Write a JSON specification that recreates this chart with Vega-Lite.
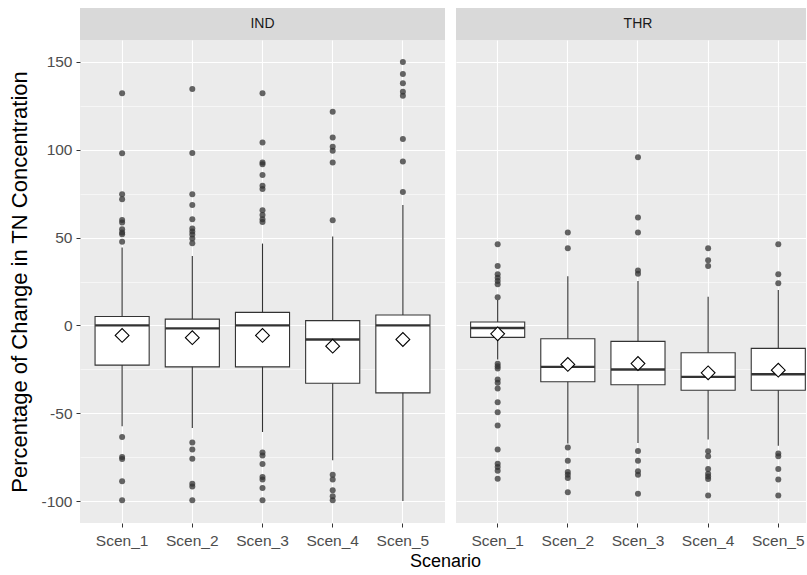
{
  "$schema": "https://vega.github.io/schema/vega-lite/v6.json",
  "background": "white",
  "padding": {"left": 8, "top": 8, "right": 0, "bottom": 0},
  "autosize": {"type": "pad"},
  "config": {
    "font": "Liberation Sans",
    "view": {"stroke": null},
    "concat": {"spacing": 11}
  },
  "title": {
    "text": "Scenario",
    "orient": "bottom",
    "anchor": "middle",
    "frame": "bounds",
    "dx": 38,
    "fontSize": 18,
    "fontWeight": "normal",
    "color": "#000000",
    "offset": 4
  },
  "datasets": {
    "boxes": [
      {"site": "IND", "scen": "Scen_1", "lo": -57.4, "q1": -22.6, "med": 0.0, "q3": 5.1, "hi": 44.3, "mean": -5.7},
      {"site": "IND", "scen": "Scen_2", "lo": -58.4, "q1": -23.6, "med": -1.7, "q3": 3.6, "hi": 39.5, "mean": -7.0},
      {"site": "IND", "scen": "Scen_3", "lo": -60.7, "q1": -23.6, "med": 0.0, "q3": 7.4, "hi": 46.6, "mean": -5.7},
      {"site": "IND", "scen": "Scen_4", "lo": -76.8, "q1": -32.9, "med": -8.0, "q3": 2.7, "hi": 50.6, "mean": -11.8},
      {"site": "IND", "scen": "Scen_5", "lo": -100.0, "q1": -38.4, "med": 0.0, "q3": 5.9, "hi": 68.6, "mean": -8.0},
      {"site": "THR", "scen": "Scen_1", "lo": -19.4, "q1": -6.8, "med": -1.5, "q3": 1.9, "hi": 14.5, "mean": -4.8},
      {"site": "THR", "scen": "Scen_2", "lo": -67.3, "q1": -32.1, "med": -23.6, "q3": -7.6, "hi": 28.0, "mean": -22.2},
      {"site": "THR", "scen": "Scen_3", "lo": -67.0, "q1": -33.8, "med": -25.1, "q3": -9.1, "hi": 25.3, "mean": -21.7},
      {"site": "THR", "scen": "Scen_4", "lo": -65.0, "q1": -36.9, "med": -29.3, "q3": -15.6, "hi": 16.3, "mean": -27.0},
      {"site": "THR", "scen": "Scen_5", "lo": -68.5, "q1": -36.9, "med": -27.8, "q3": -13.1, "hi": 20.1, "mean": -25.5}
    ],
    "outliers": [
      {"site": "IND", "scen": "Scen_1", "v": 132.2}, {"site": "IND", "scen": "Scen_1", "v": 98.0},
      {"site": "IND", "scen": "Scen_1", "v": 74.7}, {"site": "IND", "scen": "Scen_1", "v": 71.9},
      {"site": "IND", "scen": "Scen_1", "v": 60.0}, {"site": "IND", "scen": "Scen_1", "v": 58.6},
      {"site": "IND", "scen": "Scen_1", "v": 54.8}, {"site": "IND", "scen": "Scen_1", "v": 52.9},
      {"site": "IND", "scen": "Scen_1", "v": 51.9}, {"site": "IND", "scen": "Scen_1", "v": 47.7},
      {"site": "IND", "scen": "Scen_1", "v": -63.5}, {"site": "IND", "scen": "Scen_1", "v": -74.9},
      {"site": "IND", "scen": "Scen_1", "v": -76.0}, {"site": "IND", "scen": "Scen_1", "v": -88.8},
      {"site": "IND", "scen": "Scen_1", "v": -99.6},

      {"site": "IND", "scen": "Scen_2", "v": 134.6}, {"site": "IND", "scen": "Scen_2", "v": 98.1},
      {"site": "IND", "scen": "Scen_2", "v": 74.7}, {"site": "IND", "scen": "Scen_2", "v": 68.5},
      {"site": "IND", "scen": "Scen_2", "v": 60.5}, {"site": "IND", "scen": "Scen_2", "v": 55.2},
      {"site": "IND", "scen": "Scen_2", "v": 53.5}, {"site": "IND", "scen": "Scen_2", "v": 51.7},
      {"site": "IND", "scen": "Scen_2", "v": 49.5}, {"site": "IND", "scen": "Scen_2", "v": 46.8},
      {"site": "IND", "scen": "Scen_2", "v": -66.6}, {"site": "IND", "scen": "Scen_2", "v": -70.7},
      {"site": "IND", "scen": "Scen_2", "v": -75.9}, {"site": "IND", "scen": "Scen_2", "v": -90.1},
      {"site": "IND", "scen": "Scen_2", "v": -91.7}, {"site": "IND", "scen": "Scen_2", "v": -99.6},

      {"site": "IND", "scen": "Scen_3", "v": 132.2}, {"site": "IND", "scen": "Scen_3", "v": 104.2},
      {"site": "IND", "scen": "Scen_3", "v": 92.8}, {"site": "IND", "scen": "Scen_3", "v": 91.8},
      {"site": "IND", "scen": "Scen_3", "v": 85.6}, {"site": "IND", "scen": "Scen_3", "v": 79.5},
      {"site": "IND", "scen": "Scen_3", "v": 77.6}, {"site": "IND", "scen": "Scen_3", "v": 65.6},
      {"site": "IND", "scen": "Scen_3", "v": 62.8}, {"site": "IND", "scen": "Scen_3", "v": 60.5},
      {"site": "IND", "scen": "Scen_3", "v": 58.9},
      {"site": "IND", "scen": "Scen_3", "v": -72.3}, {"site": "IND", "scen": "Scen_3", "v": -74.0},
      {"site": "IND", "scen": "Scen_3", "v": -78.9}, {"site": "IND", "scen": "Scen_3", "v": -86.3},
      {"site": "IND", "scen": "Scen_3", "v": -87.8}, {"site": "IND", "scen": "Scen_3", "v": -92.6},
      {"site": "IND", "scen": "Scen_3", "v": -99.6},

      {"site": "IND", "scen": "Scen_4", "v": 121.7}, {"site": "IND", "scen": "Scen_4", "v": 107.0},
      {"site": "IND", "scen": "Scen_4", "v": 101.7}, {"site": "IND", "scen": "Scen_4", "v": 99.4},
      {"site": "IND", "scen": "Scen_4", "v": 92.8}, {"site": "IND", "scen": "Scen_4", "v": 59.9},
      {"site": "IND", "scen": "Scen_4", "v": -85.0}, {"site": "IND", "scen": "Scen_4", "v": -87.8},
      {"site": "IND", "scen": "Scen_4", "v": -93.9}, {"site": "IND", "scen": "Scen_4", "v": -97.3},
      {"site": "IND", "scen": "Scen_4", "v": -99.6},

      {"site": "IND", "scen": "Scen_5", "v": 150.0}, {"site": "IND", "scen": "Scen_5", "v": 143.2},
      {"site": "IND", "scen": "Scen_5", "v": 137.9}, {"site": "IND", "scen": "Scen_5", "v": 133.1},
      {"site": "IND", "scen": "Scen_5", "v": 130.8}, {"site": "IND", "scen": "Scen_5", "v": 106.1},
      {"site": "IND", "scen": "Scen_5", "v": 93.3}, {"site": "IND", "scen": "Scen_5", "v": 76.0},

      {"site": "THR", "scen": "Scen_1", "v": 46.2}, {"site": "THR", "scen": "Scen_1", "v": 33.8},
      {"site": "THR", "scen": "Scen_1", "v": 29.1}, {"site": "THR", "scen": "Scen_1", "v": 27.2},
      {"site": "THR", "scen": "Scen_1", "v": 25.3}, {"site": "THR", "scen": "Scen_1", "v": 23.4},
      {"site": "THR", "scen": "Scen_1", "v": 16.1},
      {"site": "THR", "scen": "Scen_1", "v": -21.9}, {"site": "THR", "scen": "Scen_1", "v": -23.2},
      {"site": "THR", "scen": "Scen_1", "v": -24.6}, {"site": "THR", "scen": "Scen_1", "v": -30.8},
      {"site": "THR", "scen": "Scen_1", "v": -32.7}, {"site": "THR", "scen": "Scen_1", "v": -35.9},
      {"site": "THR", "scen": "Scen_1", "v": -43.7}, {"site": "THR", "scen": "Scen_1", "v": -49.4},
      {"site": "THR", "scen": "Scen_1", "v": -57.0}, {"site": "THR", "scen": "Scen_1", "v": -70.7},
      {"site": "THR", "scen": "Scen_1", "v": -78.7}, {"site": "THR", "scen": "Scen_1", "v": -80.6},
      {"site": "THR", "scen": "Scen_1", "v": -82.7}, {"site": "THR", "scen": "Scen_1", "v": -87.3},

      {"site": "THR", "scen": "Scen_2", "v": 52.9}, {"site": "THR", "scen": "Scen_2", "v": 43.9},
      {"site": "THR", "scen": "Scen_2", "v": -69.5}, {"site": "THR", "scen": "Scen_2", "v": -77.0},
      {"site": "THR", "scen": "Scen_2", "v": -83.5}, {"site": "THR", "scen": "Scen_2", "v": -85.0},
      {"site": "THR", "scen": "Scen_2", "v": -86.9}, {"site": "THR", "scen": "Scen_2", "v": -95.0},

      {"site": "THR", "scen": "Scen_3", "v": 95.7}, {"site": "THR", "scen": "Scen_3", "v": 61.4},
      {"site": "THR", "scen": "Scen_3", "v": 52.9}, {"site": "THR", "scen": "Scen_3", "v": 31.2},
      {"site": "THR", "scen": "Scen_3", "v": 29.4},
      {"site": "THR", "scen": "Scen_3", "v": -71.5}, {"site": "THR", "scen": "Scen_3", "v": -77.0},
      {"site": "THR", "scen": "Scen_3", "v": -83.1}, {"site": "THR", "scen": "Scen_3", "v": -85.0},
      {"site": "THR", "scen": "Scen_3", "v": -95.8},

      {"site": "THR", "scen": "Scen_4", "v": 43.9}, {"site": "THR", "scen": "Scen_4", "v": 37.1},
      {"site": "THR", "scen": "Scen_4", "v": 33.8},
      {"site": "THR", "scen": "Scen_4", "v": -71.7}, {"site": "THR", "scen": "Scen_4", "v": -74.5},
      {"site": "THR", "scen": "Scen_4", "v": -81.8}, {"site": "THR", "scen": "Scen_4", "v": -84.4},
      {"site": "THR", "scen": "Scen_4", "v": -86.0}, {"site": "THR", "scen": "Scen_4", "v": -87.5},
      {"site": "THR", "scen": "Scen_4", "v": -96.8},

      {"site": "THR", "scen": "Scen_5", "v": 46.2}, {"site": "THR", "scen": "Scen_5", "v": 29.1},
      {"site": "THR", "scen": "Scen_5", "v": 24.0},
      {"site": "THR", "scen": "Scen_5", "v": -73.0}, {"site": "THR", "scen": "Scen_5", "v": -74.5},
      {"site": "THR", "scen": "Scen_5", "v": -81.8}, {"site": "THR", "scen": "Scen_5", "v": -87.8},
      {"site": "THR", "scen": "Scen_5", "v": -96.8}
    ]
  },
  "hconcat": [
    {
      "vconcat": [
        {
          "data": {"name": "boxes"},
          "transform": [{"filter": "datum.site === 'IND' && datum.scen === 'Scen_1'"}],
          "width": 365,
          "height": 32,
          "view": {"fill": "#D9D9D9", "stroke": null},
          "mark": {"type": "text", "fontSize": 14, "color": "#1A1A1A", "baseline": "middle", "align": "center"},
          "encoding": {"text": {"field": "site"}}
        },
        {
          "width": 365,
          "height": 483,
          "view": {"fill": "#EBEBEB", "stroke": null},
          "layer": [
            {
              "data": {"name": "boxes"},
              "transform": [{"filter": "datum.site === 'IND'"}],
              "mark": {"type": "rule", "color": "#333333", "strokeWidth": 1.1},
              "encoding": {
                "x": {
                  "field": "scen", "type": "nominal",
                  "scale": {"type": "band", "domain": ["Scen_1", "Scen_2", "Scen_3", "Scen_4", "Scen_5"], "paddingInner": 0.229, "paddingOuter": 0.2145},
                  "axis": {"title": null, "domain": false, "grid": true, "gridColor": "#FFFFFF", "gridWidth": 1.1, "bandPosition": 0.5, "tickColor": "#333333", "tickSize": 4, "labelColor": "#4D4D4D", "labelFontSize": 15.5, "labelPadding": 6, "labelAngle": 0}
                },
                "y": {
                  "field": "lo", "type": "quantitative",
                  "scale": {"domain": [-112.5, 162.5], "nice": false, "zero": false},
                  "axis": {
                    "title": "Percentage of Change in TN Concentration",
                    "values": [-100, -75, -50, -25, 0, 25, 50, 75, 100, 125, 150],
                    "labelExpr": "datum.value % 50 === 0 ? '' + datum.value : ''",
                    "tickOpacity": {"condition": {"test": "datum.value % 50 === 0", "value": 1}, "value": 0},
                    "gridWidth": {"condition": {"test": "datum.value % 50 === 0", "value": 1.1}, "value": 0.55},
                    "gridColor": "#FFFFFF",
                    "domain": false,
                    "tickColor": "#333333",
                    "tickSize": 4,
                    "labelColor": "#4D4D4D",
                    "labelFontSize": 15.5,
                    "labelPadding": 4,
                    "titleFontSize": 22,
                    "titleFontWeight": "normal",
                    "titleColor": "#000000",
                    "titlePadding": 9
                  }
                },
                "y2": {"field": "hi"}
              }
            },
            {
              "data": {"name": "boxes"},
              "transform": [{"filter": "datum.site === 'IND'"}],
              "mark": {"type": "bar", "fill": "#FFFFFF", "stroke": "#333333", "strokeWidth": 1.1},
              "encoding": {
                "x": {"field": "scen", "type": "nominal"},
                "y": {"field": "q1", "type": "quantitative"},
                "y2": {"field": "q3"}
              }
            },
            {
              "data": {"name": "boxes"},
              "transform": [{"filter": "datum.site === 'IND'"}],
              "mark": {"type": "tick", "color": "#333333", "thickness": 2.4, "size": 54, "opacity": 1},
              "encoding": {
                "x": {"field": "scen", "type": "nominal"},
                "y": {"field": "med", "type": "quantitative"}
              }
            },
            {
              "data": {"name": "boxes"},
              "transform": [{"filter": "datum.site === 'IND'"}],
              "mark": {"type": "point", "shape": "diamond", "filled": true, "fill": "#FFFFFF", "stroke": "#000000", "strokeWidth": 1.1, "size": 190, "opacity": 1},
              "encoding": {
                "x": {"field": "scen", "type": "nominal"},
                "y": {"field": "mean", "type": "quantitative"}
              }
            },
            {
              "data": {"name": "outliers"},
              "transform": [{"filter": "datum.site === 'IND'"}],
              "mark": {"type": "circle", "color": "#333333", "opacity": 0.75, "size": 36},
              "encoding": {
                "x": {"field": "scen", "type": "nominal"},
                "y": {"field": "v", "type": "quantitative"}
              }
            }
          ]
        }
      ],
      "spacing": 0
    },
    {
      "vconcat": [
        {
          "data": {"name": "boxes"},
          "transform": [{"filter": "datum.site === 'THR' && datum.scen === 'Scen_1'"}],
          "width": 350,
          "height": 32,
          "view": {"fill": "#D9D9D9", "stroke": null},
          "mark": {"type": "text", "fontSize": 14, "color": "#1A1A1A", "baseline": "middle", "align": "center", "dx": 7},
          "encoding": {"text": {"field": "site"}}
        },
        {
          "width": 350,
          "height": 483,
          "view": {"fill": "#EBEBEB", "stroke": null},
          "layer": [
            {
              "data": {"name": "boxes"},
              "transform": [{"filter": "datum.site === 'THR'"}],
              "mark": {"type": "rule", "color": "#333333", "strokeWidth": 1.1},
              "encoding": {
                "x": {
                  "field": "scen", "type": "nominal",
                  "scale": {"type": "band", "domain": ["Scen_1", "Scen_2", "Scen_3", "Scen_4", "Scen_5"], "paddingInner": 0.229, "paddingOuter": 0.109, "align": 0.956},
                  "axis": {"title": null, "domain": false, "grid": true, "gridColor": "#FFFFFF", "gridWidth": 1.1, "bandPosition": 0.5, "tickColor": "#333333", "tickSize": 4, "labelColor": "#4D4D4D", "labelFontSize": 15.5, "labelPadding": 6, "labelAngle": 0}
                },
                "y": {
                  "field": "lo", "type": "quantitative",
                  "scale": {"domain": [-112.5, 162.5], "nice": false, "zero": false},
                  "axis": {
                    "title": null,
                    "labels": false,
                    "ticks": false,
                    "domain": false,
                    "values": [-100, -75, -50, -25, 0, 25, 50, 75, 100, 125, 150],
                    "gridWidth": {"condition": {"test": "datum.value % 50 === 0", "value": 1.1}, "value": 0.55},
                    "gridColor": "#FFFFFF"
                  }
                },
                "y2": {"field": "hi"}
              }
            },
            {
              "data": {"name": "boxes"},
              "transform": [{"filter": "datum.site === 'THR'"}],
              "mark": {"type": "bar", "fill": "#FFFFFF", "stroke": "#333333", "strokeWidth": 1.1},
              "encoding": {
                "x": {"field": "scen", "type": "nominal"},
                "y": {"field": "q1", "type": "quantitative"},
                "y2": {"field": "q3"}
              }
            },
            {
              "data": {"name": "boxes"},
              "transform": [{"filter": "datum.site === 'THR'"}],
              "mark": {"type": "tick", "color": "#333333", "thickness": 2.4, "size": 54, "opacity": 1},
              "encoding": {
                "x": {"field": "scen", "type": "nominal"},
                "y": {"field": "med", "type": "quantitative"}
              }
            },
            {
              "data": {"name": "boxes"},
              "transform": [{"filter": "datum.site === 'THR'"}],
              "mark": {"type": "point", "shape": "diamond", "filled": true, "fill": "#FFFFFF", "stroke": "#000000", "strokeWidth": 1.1, "size": 190, "opacity": 1},
              "encoding": {
                "x": {"field": "scen", "type": "nominal"},
                "y": {"field": "mean", "type": "quantitative"}
              }
            },
            {
              "data": {"name": "outliers"},
              "transform": [{"filter": "datum.site === 'THR'"}],
              "mark": {"type": "circle", "color": "#333333", "opacity": 0.75, "size": 36},
              "encoding": {
                "x": {"field": "scen", "type": "nominal"},
                "y": {"field": "v", "type": "quantitative"}
              }
            }
          ]
        }
      ],
      "spacing": 0
    }
  ]
}
